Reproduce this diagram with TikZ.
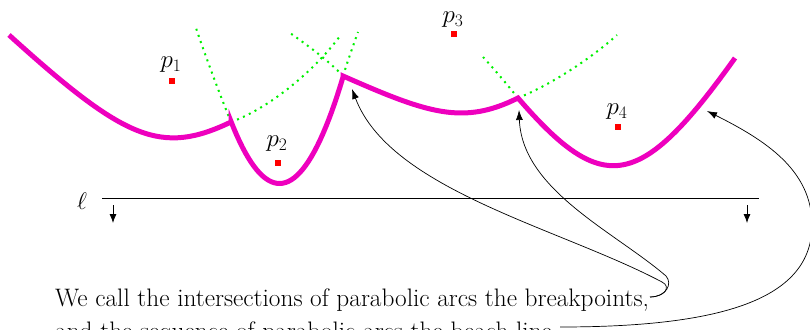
\RequirePackage{fix-cm}
\documentclass[tikz,border=0pt]{standalone}
\usetikzlibrary{arrows.meta}
\definecolor{beach}{RGB}{238,0,190}
\definecolor{dotgreen}{RGB}{0,240,0}
\begin{document}
\begin{tikzpicture}[x=1pt,y=-1pt,
  beachline/.style={draw=beach,line width=5pt,line join=miter},
  ghost/.style={draw=dotgreen,line width=2pt,dash pattern=on 2pt off 4.5pt},
  site/.style={fill=red,minimum size=6pt,inner sep=0pt},
  sitelabel/.style={anchor=south,inner sep=0pt,font=\fontsize{25}{30}\selectfont},
  callout/.style={draw=black,line width=0.7pt,-{Latex[length=10pt,width=7pt]}},
  sweep/.style={draw=black,line width=0.8pt},
  sweepdir/.style={draw=black,line width=0.8pt,-{Latex[length=9pt,width=7pt]}},
  capline/.style={anchor=base west,inner sep=0pt,font=\fontsize{25.3}{30}\selectfont}]
\useasboundingbox (0,0) rectangle (810,329);
\begin{scope}
\clip (0,0) rectangle (810,329);
% breakpoints
\coordinate (b1) at (231,122);
\coordinate (b2) at (343,76);
\coordinate (b3) at (518,98);
% ghost continuations
\draw[ghost] (b1) .. controls (222,100) and (206,58) .. (196,28);
\draw[ghost] (b1) .. controls (270,108) and (315,70) .. (340,36);
\draw[ghost] (b2) .. controls (330,62) and (310,47) .. (290,33);
\draw[ghost] (b2) .. controls (348,60) and (353,46) .. (358,32);
\draw[ghost] (b3) .. controls (505,82) and (495,70) .. (483,57);
\draw[ghost] (b3) .. controls (555,83) and (595,55) .. (617,35);
% beach line
\draw[beachline] (9,35) .. controls (125,140) and (161,155.6) .. (b1)
  -- plot[domain=231:343,samples=40] (\x,{183.5-0.0264*(\x-279.5)^2})
  -- (b2) .. controls (428,113.4) and (463,125.5) .. (b3)
  .. controls (603,196.6) and (640,191) .. (735,58);
% sites
\node[site] (s1) at (172,81) {};
\node[site] (s2) at (278,163) {};
\node[site] (s3) at (454,34) {};
\node[site] (s4) at (618,127) {};
\node[sitelabel] (l1) at (171,73) {$p_1$};
\node[sitelabel] (l2) at (277,152) {$p_2$};
\node[sitelabel] (l3) at (453,28) {$p_3$};
\node[sitelabel] (l4) at (617,120) {$p_4$};
% sweep line
\coordinate (sw1) at (102,198);
\coordinate (sw2) at (759,198);
\draw[sweep] (sw1) -- (sw2);
\node[inner sep=0pt,font=\fontsize{24}{28}\selectfont] (ell) at (82,201) {$\ell$};
\coordinate (d1a) at (113,205); \coordinate (d1b) at (113,223);
\coordinate (d2a) at (747,205); \coordinate (d2b) at (747,223);
\draw[sweepdir] (d1a) -- (d1b);
\draw[sweepdir] (d2a) -- (d2b);
% caption
\node[capline] (t1) at (55,306) {We call the intersections of parabolic arcs the breakpoints,};
\node[capline] (t2) at (55,339) {and the sequence of parabolic arcs the beach line};
\coordinate (sA) at (650,297);
\coordinate (sC) at (560,327);
\coordinate (tA) at (352,89);
\coordinate (tB) at (519,110);
\coordinate (tC) at (707,111);
\draw[callout] (sA) .. controls (664,297) and (672,287) .. (662,282)
  .. controls (560,228) and (390,190) .. (tA);
\draw[callout] (sA) .. controls (666,297) and (673,284) .. (666,276)
  .. controls (615,232) and (522,190) .. (tB);
\draw[callout] (sC) .. controls (720,327) and (812,300) .. (812,225)
  .. controls (812,170) and (765,140) .. (tC);
\end{scope}
\end{tikzpicture}
\end{document}
